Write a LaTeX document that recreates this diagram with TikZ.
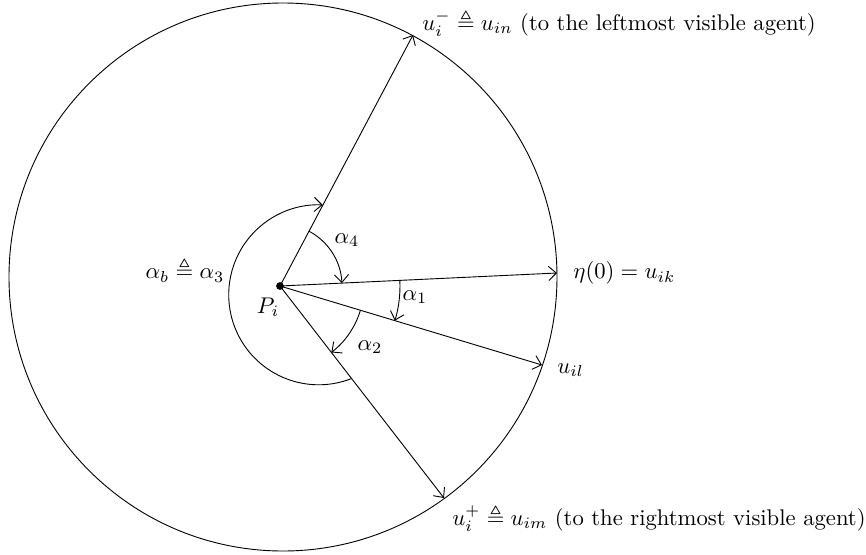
\documentclass[tikz,border=0pt]{standalone}
\usepackage{amsmath}
\usepackage{amssymb}
\usetikzlibrary{arrows.meta, positioning}
\tikzstyle{ray} = [-{Straight Barb[length=1.2mm, width=2.2mm]}]
\tikzstyle{lbl} = [inner sep=0pt]

\begin{document}
\begin{tikzpicture}[x=0.0155cm, y=0.0155cm, line join=round]
    \useasboundingbox (-280,-268) rectangle (586,286);
    \def\R{274}

    % Agent P_i and the sensing circle (centre a bit off P_i)
    \node[circle, fill, inner sep=0pt, minimum size=0.12cm] (P) at (0,0) {};
    \coordinate (O) at (3,9);
    \draw (O) circle (\R);

    % Tips of the rays on the circle
    \coordinate (un) at (133,251);
    \coordinate (uk) at (277,13);
    \coordinate (ul) at (262,-79);
    \coordinate (um) at (164,-212);
    \foreach \t in {un,uk,ul,um}
      \draw[ray] (P.center) -- (\t);

    % Angle arcs
    \draw[ray] (62.1:62) arc (62.1:2.7:62);
    \draw[ray] (2.7:120) arc (2.7:-16.8:120);
    \draw[ray] (-16.8:84) arc (-16.8:-52.3:84);
    \draw[ray] (-52.3:117) arc (-68.6:-272.5:90);

    % Labels
    \node (a4) at (67,46) {$\alpha_4$};
    \node (a1) at (135,-11) {$\alpha_1$};
    \node (a2) at (90,-61) {$\alpha_2$};
    \node (a3) at (-95,16) {$\alpha_b \triangleq \alpha_3$};
    \node (Pl) at (-12,-21) {$P_i$};
    \node[lbl, anchor=west] (lk) at (293,13) {$\eta(0) = u_{ik}$};
    \node[lbl, anchor=west] (ll) at (277,-84) {$u_{il}$};
    \node[lbl, anchor=west] (ln) at (142,263) {$u_i^- \triangleq u_{in}$ (to the leftmost visible agent)};
    \node[lbl, anchor=west] (lm) at (172,-232) {$u_i^+ \triangleq u_{im}$ (to the rightmost visible agent)};
\end{tikzpicture}
\end{document}
